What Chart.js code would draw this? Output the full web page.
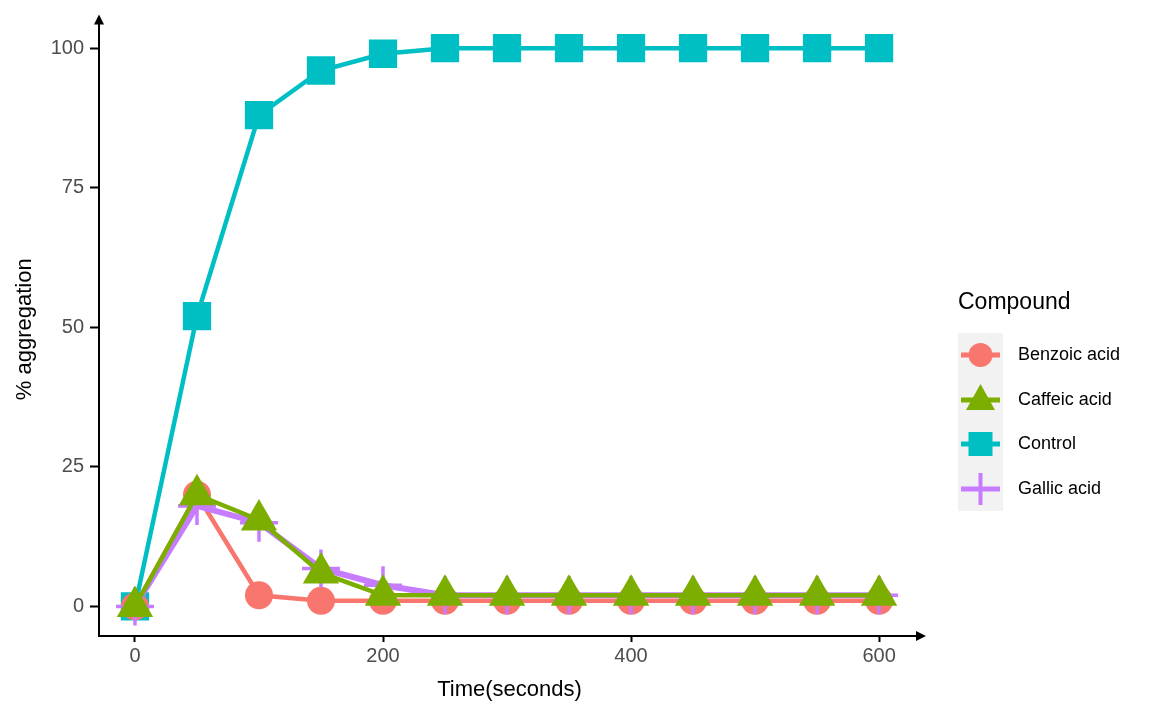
<!DOCTYPE html>
<html>
<head>
<meta charset="utf-8">
<script src="https://cdn.jsdelivr.net/npm/chart.js"></script>
<style>
  body { margin: 0; background: #fff; font-family: "Liberation Sans", Arial, sans-serif; }
  #wrap { position: relative; width: 1156px; height: 707px; }
  #legend { position: absolute; left: 958px; top: 288px; }
  #legend .title { font-size: 23px; color: #000; height: 45px; }
  #legend .row { position: relative; height: 44.5px; }
  #legend .key { position: absolute; left: 0; top: 0; width: 45px; height: 44.5px; background: #f2f2f2; }
  #legend .lab { position: absolute; left: 60px; top: 11px; font-size: 18px; color: #000; white-space: nowrap; }
</style>
</head>
<body>
<div id="wrap">
  <canvas id="chart" width="1156" height="707"></canvas>
  <div id="legend"></div>
</div>
<script>
// tiempos (s)
const tiempos = [0, 50, 100, 150, 200, 250, 300, 350, 400, 450, 500, 550, 600];

const control  = [0, 52, 88, 96, 99, 100, 100, 100, 100, 100, 100, 100, 100];
const benzoico = [0, 20, 2, 1, 1, 1, 1, 1, 1, 1, 1, 1, 1];
const cafeico  = [0, 20, 15.5, 6, 2, 2, 2, 2, 2, 2, 2, 2, 2];
const galico   = [0, 18, 15, 6.8, 3.8, 2, 2, 2, 2, 2, 2, 2, 2];

const ticksX = [0, 200, 400, 600];
const ticksY = [0, 25, 50, 75, 100];

const series = [
  { label: "Benzoic acid", data: benzoico, color: "#F8766D", estilo: "circle", radio: 14, ancho: 4.5, orden: 3 },
  { label: "Caffeic acid", data: cafeico, color: "#7CAE00", estilo: "triangle", radio: 21, ancho: 4.5, orden: 1 },
  { label: "Control", data: control, color: "#00BFC4", estilo: "rect", radio: 20, ancho: 4.5, orden: 4 },
  { label: "Gallic acid", data: galico, color: "#C77CFF", estilo: "cross", radio: 19, ancho: 6, orden: 2 },
];

const flechas = {
  id: "flechas",
  afterDraw(chart) {
    const { ctx, chartArea: a } = chart;
    ctx.save();
    ctx.fillStyle = "#000";
    ctx.beginPath();
    ctx.moveTo(a.left, a.top - 8);
    ctx.lineTo(a.left - 5, a.top + 2);
    ctx.lineTo(a.left + 5, a.top + 2);
    ctx.closePath();
    ctx.fill();
    ctx.beginPath();
    ctx.moveTo(a.right + 6, a.bottom);
    ctx.lineTo(a.right - 4, a.bottom - 5);
    ctx.lineTo(a.right - 4, a.bottom + 5);
    ctx.closePath();
    ctx.fill();
    ctx.restore();
  },
};

new Chart(document.getElementById("chart").getContext("2d"), {
  type: "line",
  data: {
    datasets: series.map((s) => ({
      label: s.label,
      data: tiempos.map((t, i) => ({ x: t, y: s.data[i] })),
      borderColor: s.color,
      backgroundColor: s.color,
      borderWidth: s.ancho,
      pointStyle: s.estilo,
      pointRadius: s.radio,
      pointHoverRadius: s.radio,
      pointBorderWidth: s.estilo === "cross" ? 3.5 : 0,
      pointBorderColor: s.color,
      order: s.orden,
      tension: 0,
    })),
  },
  plugins: [flechas],
  options: {
    responsive: false,
    animation: false,
    events: [],
    layout: { padding: { top: 10, right: 236, left: 0, bottom: 0 } },
    plugins: { legend: { display: false }, tooltip: { enabled: false } },
    scales: {
      x: {
        type: "linear",
        min: -29,
        max: 633,
        afterFit: (s) => { s.height = 71; },
        afterBuildTicks: (s) => { s.ticks = ticksX.map((v) => ({ value: v })); },
        grid: { drawOnChartArea: false, drawTicks: true, tickLength: 6, tickWidth: 2, color: "#000" },
        border: { display: true, color: "#000", width: 2 },
        ticks: { color: "#4d4d4d", font: { size: 20, family: "Liberation Sans" }, padding: 2, maxRotation: 0 },
        title: { display: true, text: "Time(seconds)", color: "#000", font: { size: 22, family: "Liberation Sans" }, padding: { top: 0, bottom: 4 } },
      },
      y: {
        min: -5.3,
        max: 104.6,
        afterFit: (s) => { s.width = 99; },
        afterBuildTicks: (s) => { s.ticks = ticksY.map((v) => ({ value: v })); },
        grid: { drawOnChartArea: false, drawTicks: true, tickLength: 9, tickWidth: 2, color: "#000" },
        border: { display: true, color: "#000", width: 2 },
        ticks: { color: "#4d4d4d", font: { size: 20, family: "Liberation Sans" }, padding: 6 },
        title: { display: true, text: "% aggregation", color: "#000", font: { size: 22, family: "Liberation Sans" }, padding: { top: 12, bottom: 0 } },
      },
    },
  },
});

// Leyenda
const simbolo = (s) => {
  let m = "";
  if (s.estilo === "circle") m = `<circle cx="22.5" cy="22" r="12" fill="${s.color}"/>`;
  if (s.estilo === "triangle") m = `<polygon points="22.5,6 37,32 8,32" fill="${s.color}"/>`;
  if (s.estilo === "rect") m = `<rect x="10.5" y="10" width="24" height="24" fill="${s.color}"/>`;
  if (s.estilo === "cross") m = `<path d="M22.5 6 V38 M7 22 H38" stroke="${s.color}" stroke-width="4"/>`;
  return `<svg width="45" height="44.5"><line x1="3" y1="22" x2="42" y2="22" stroke="${s.color}" stroke-width="5"/>${m}</svg>`;
};
document.getElementById("legend").innerHTML =
  `<div class="title">Compound</div>` +
  series.map((s) => `<div class="row"><div class="key">${simbolo(s)}</div><div class="lab">${s.label}</div></div>`).join("");
</script>
</body>
</html>
